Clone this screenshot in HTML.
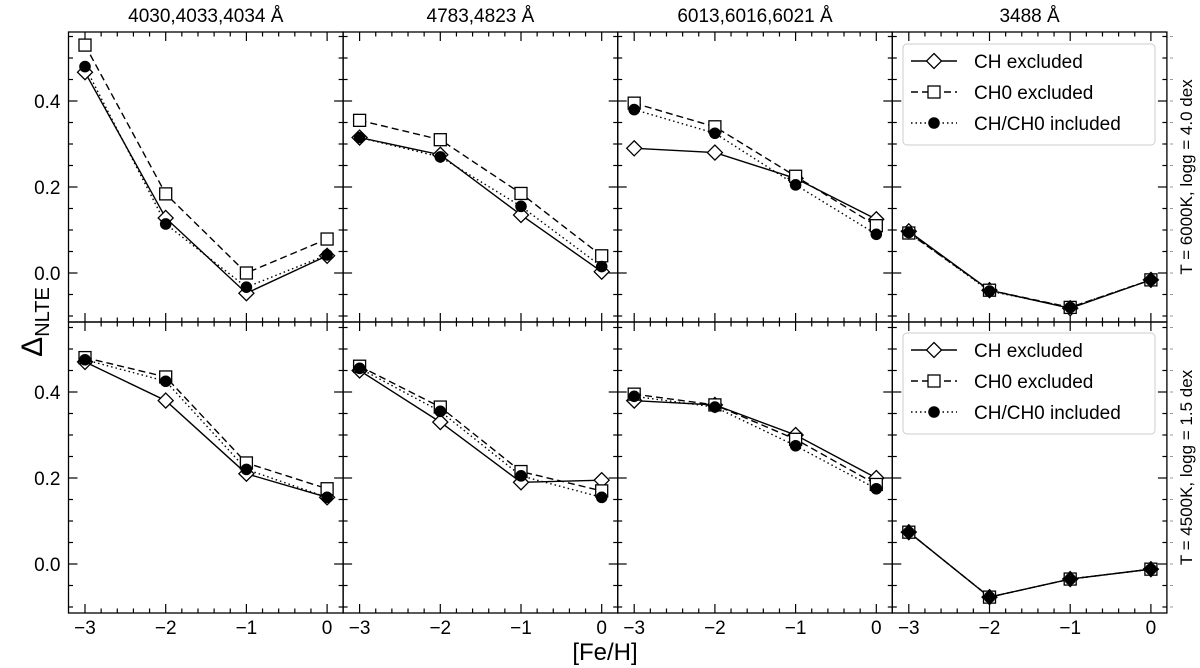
<!DOCTYPE html>
<html><head><meta charset="utf-8">
<style>
html,body{margin:0;padding:0;background:#fff;}
svg{display:block;font-family:"Liberation Sans",Arial,sans-serif;}
</style></head>
<body>
<svg id="fig" width="1200" height="668" viewBox="0 0 1200 668" xmlns="http://www.w3.org/2000/svg"></svg>
<script>
const xCategories = [-3, -2, -1, 0];
const panelTitles = ["4030,4033,4034 Å", "4783,4823 Å", "6013,6016,6021 Å", "3488 Å"];
const rowLabels = ["T = 6000K, logg = 4.0 dex", "T = 4500K, logg = 1.5 dex"];
const seriesNames = ["CH excluded", "CH0 excluded", "CH/CH0 included"];
const yTickValues = [0.0, 0.2, 0.4];
const yTickLabels = ["0.0", "0.2", "0.4"];
const xTickLabels = ["−3", "−2", "−1", "0"];
const top1CH = [0.467, 0.128, -0.047, 0.04];
const top1CH0 = [0.53, 0.184, 0.0, 0.079];
const top1All = [0.48, 0.114, -0.033, 0.042];
const top2CH = [0.315, 0.275, 0.135, 0.003];
const top2CH0 = [0.355, 0.31, 0.185, 0.04];
const top2All = [0.315, 0.27, 0.155, 0.015];
const top3CH = [0.29, 0.28, 0.22, 0.125];
const top3CH0 = [0.395, 0.34, 0.225, 0.11];
const top3All = [0.38, 0.325, 0.205, 0.09];
const top4CH = [0.097, -0.04, -0.082, -0.016];
const top4CH0 = [0.093, -0.04, -0.08, -0.016];
const top4All = [0.094, -0.042, -0.08, -0.016];
const bot1CH = [0.47, 0.38, 0.21, 0.155];
const bot1CH0 = [0.48, 0.435, 0.235, 0.175];
const bot1All = [0.475, 0.425, 0.22, 0.155];
const bot2CH = [0.45, 0.33, 0.19, 0.195];
const bot2CH0 = [0.46, 0.365, 0.215, 0.17];
const bot2All = [0.455, 0.355, 0.205, 0.155];
const bot3CH = [0.38, 0.37, 0.30, 0.20];
const bot3CH0 = [0.395, 0.37, 0.29, 0.185];
const bot3All = [0.39, 0.365, 0.275, 0.175];
const bot4CH = [0.074, -0.077, -0.035, -0.012];
const bot4CH0 = [0.074, -0.077, -0.035, -0.012];
const bot4All = [0.074, -0.077, -0.035, -0.012];

const panelData = [
  [[top1CH, top1CH0, top1All], [top2CH, top2CH0, top2All], [top3CH, top3CH0, top3All], [top4CH, top4CH0, top4All]],
  [[bot1CH, bot1CH0, bot1All], [bot2CH, bot2CH0, bot2All], [bot3CH, bot3CH0, bot3All], [bot4CH, bot4CH0, bot4All]]
];

const NS = "http://www.w3.org/2000/svg";
const svg = document.getElementById("fig");
function mk(tag, attrs, parent) {
  const e = document.createElementNS(NS, tag);
  for (const k in attrs) e.setAttribute(k, attrs[k]);
  (parent || svg).appendChild(e);
  return e;
}
const L0 = 68.5, PW = 274.6, XPAD = 16.5, XU = 80.7;
const rowTop = [32, 322], rowBot = [322, 613], rowZero = [273, 564], YU = 430;
function xs(p, v) { return L0 + p * PW + XPAD + (v + 3) * XU; }
function ys(r, v) { return rowZero[r] - v * YU; }
const dashes = ["", "7,4", "1.5,3"];

function marker(kind, x, y, g) {
  let m;
  if (kind === 0) m = mk("polygon", {points: `${x},${y-7.5} ${x+7.5},${y} ${x},${y+7.5} ${x-7.5},${y}`, fill: "#fff", stroke: "#000", "stroke-width": 1.3}, g);
  else if (kind === 1) m = mk("rect", {x: x-6, y: y-6, width: 12, height: 12, fill: "#fff", stroke: "#000", "stroke-width": 1.3}, g);
  else m = mk("circle", {cx: x, cy: y, r: 5.8, fill: "#000"}, g);
  return m;
}

for (let r = 0; r < 2; r++) {
  for (let p = 0; p < 4; p++) {
    const left = L0 + p * PW, right = left + PW, top = rowTop[r], bot = rowBot[r];
    const g = mk("g", {});
    
    
    const frame = mk("rect", {x: left, y: top, width: PW, height: bot - top, fill: "none", stroke: "#000", "stroke-width": 1.3}, g);
    
    
    for (let k = -3; k <= 12; k++) {
      const v = k * 0.05, y = ys(r, v);
      if (y < top + 1 || y > bot - 1) continue;
      const major = (k % 4 === 0), len = major ? 9 : 4.5;
      mk("line", {x1: left, y1: y, x2: left + len, y2: y, stroke: "#000", "stroke-width": 1.2}, g);
      mk("line", {x1: right, y1: y, x2: right - len, y2: y, stroke: "#000", "stroke-width": 1.2}, g);
    }
    for (let k = -16; k <= 2; k++) {
      const v = k * 0.2, x = xs(p, v);
      if (x < left + 1 || x > right - 1) continue;
      const major = (k % 5 === 0), len = major ? 9 : 4.5;
      mk("line", {x1: x, y1: bot, x2: x, y2: bot - len, stroke: "#000", "stroke-width": 1.2}, g);
      mk("line", {x1: x, y1: top, x2: x, y2: top + len, stroke: "#000", "stroke-width": 1.2}, g);
    }
    for (let s = 2; s >= 0; s--) {
      const vals = panelData[r][p][s];
      const pts = vals.map((v, i) => `${xs(p, xCategories[i])},${ys(r, v)}`).join(" ");
      const line = mk("polyline", {points: pts, fill: "none", stroke: "#000", "stroke-width": 1.4, "stroke-dasharray": dashes[s]}, g);
      
      
    }
    for (let s = 0; s < 3; s++) {
      const vals = panelData[r][p][s];
      vals.forEach((v, i) => {
        const m = marker(s, xs(p, xCategories[i]), ys(r, v), g);
        
        
      });
    }
    if (p === 0) {
      yTickValues.forEach((v, i) => {
        const t = mk("text", {x: left - 8, y: ys(r, v) + 7, "text-anchor": "end", "font-size": 19}, g);
        t.textContent = yTickLabels[i];
        
        
      });
    }
    if (r === 1) {
      xCategories.forEach((v, i) => {
        const t = mk("text", {x: xs(p, v), y: 634, "text-anchor": "middle", "font-size": 19}, g);
        t.textContent = xTickLabels[i];
        
        
      });
    }
    if (r === 0) {
      const t = mk("text", {x: left + PW / 2, y: 22, "text-anchor": "middle", "font-size": 19}, g);
      t.textContent = panelTitles[p];
      
      
    }
    if (p === 3) {
      const ly = r === 0 ? 44 : 333;
      const lg = mk("g", {}, g);
      
      
      mk("rect", {x: 903, y: ly, width: 252, height: 101, rx: 4, fill: "#fff", stroke: "#ccc", "stroke-width": 1}, lg);
      for (let s = 0; s < 3; s++) {
        const yy = ly + 17 + s * 31;
        const e = mk("g", {}, lg);
        
        
        mk("line", {x1: 911, y1: yy, x2: 957, y2: yy, stroke: "#000", "stroke-width": 1.4, "stroke-dasharray": dashes[s]}, e);
        marker(s, 934, yy, e);
        const t = mk("text", {x: 974, y: yy + 7, "font-size": 19}, e);
        t.textContent = seriesNames[s];
      }
      for (let k = -3; k <= 12; k++) {
        const y = ys(r, k * 0.05);
        if (y < top || y > bot) continue;
        mk("line", {x1: 1170, y1: y, x2: 1173, y2: y, stroke: "#999", "stroke-width": 1}, g);
      }
      const rt = mk("text", {x: 0, y: 0, "text-anchor": "middle", "font-size": 17, transform: `translate(1192,${(top + bot) / 2}) rotate(-90)`}, g);
      rt.textContent = rowLabels[r];
      
      
    }
  }
}
const yl = mk("text", {x: 0, y: 0, "text-anchor": "middle", "font-size": 30, transform: "translate(42,322) rotate(-90)"});
yl.innerHTML = 'Δ<tspan font-size="20" dy="7">NLTE</tspan>';


const xl = mk("text", {x: 605, y: 660, "text-anchor": "middle", "font-size": 24});
xl.textContent = "[Fe/H]";


</script>
</body></html>
